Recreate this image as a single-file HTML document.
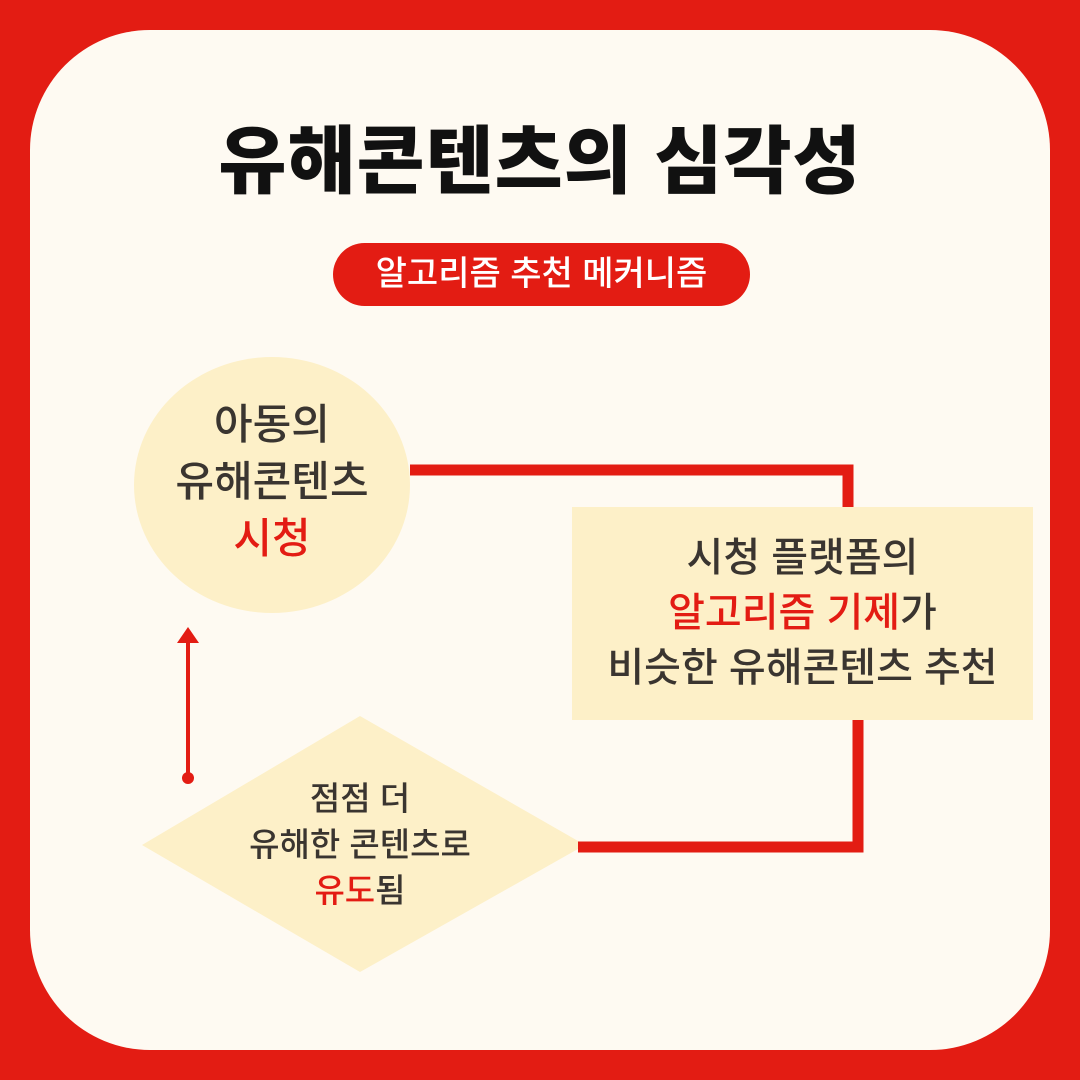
<!DOCTYPE html>
<html><head><meta charset="utf-8"><style>
html,body{margin:0;padding:0}
body{width:1080px;height:1080px;background:#E31C13;position:relative;overflow:hidden;font-family:"Liberation Sans","Noto Sans CJK KR",sans-serif}
.card{position:absolute;left:30px;top:30px;width:1020px;height:1020px;background:#FEFAF2;border-radius:120px}
.t{position:absolute;left:0;width:1080px;text-align:center;font-size:74px;font-weight:900;top:102px;color:#111;letter-spacing:1px}
.pill{position:absolute;left:333px;top:243px;width:417px;height:63px;border-radius:32px;background:#E31C13;color:#fff;font-size:34px;font-weight:500;text-align:center;line-height:63px}
.txt{position:absolute;text-align:center;color:#3a3530;font-weight:500}
.r{color:#E31C13}
</style></head><body>
<div class="card"></div>
<div class="t">유해콘텐츠의 심각성</div>
<div class="pill">알고리즘 추천 메커니즘</div>
<svg width="1080" height="1080" style="position:absolute;left:0;top:0">
<ellipse cx="272" cy="485" rx="138" ry="128" fill="#FDF0C8"/>
<rect x="572" y="507" width="461" height="213" fill="#FDF0C8"/>
<polygon points="360,716 585,845 360,972 142,845" fill="#FDF0C8"/>
<polyline points="410,470 848,470 848,507" fill="none" stroke="#E31C13" stroke-width="11"/>
<polyline points="858,720 858,847 578,847" fill="none" stroke="#E31C13" stroke-width="11"/>
<line x1="188" y1="778" x2="188" y2="642" stroke="#E31C13" stroke-width="4"/>
<polygon points="188,627 177,643 199,643" fill="#E31C13"/>
<circle cx="188" cy="778" r="6" fill="#E31C13"/>
</svg>
<div class="txt" style="left:132px;width:280px;top:396px;font-size:42px;line-height:57px">아동의<br>유해콘텐츠<br><span class="r">시청</span></div>
<div class="txt" style="left:572px;width:461px;top:531px;font-size:40px;line-height:55px">시청 플랫폼의<br><span class="r">알고리즘 기제</span>가<br>비슷한 유해콘텐츠 추천</div>
<div class="txt" style="left:200px;width:320px;top:776px;font-size:33px;line-height:46px">점점 더<br>유해한 콘텐츠로<br><span class="r">유도</span>됨</div>
</body></html>
